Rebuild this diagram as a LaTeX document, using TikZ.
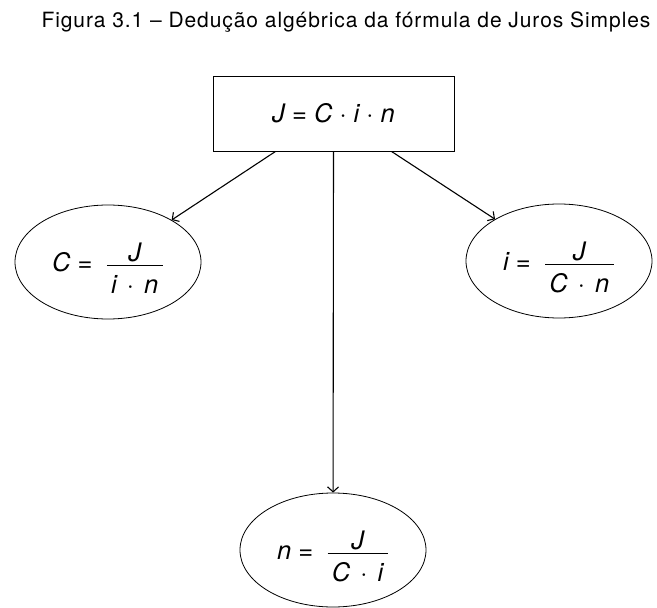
\documentclass[tikz,border=0pt]{standalone}
\usepackage{fontspec}
\setmainfont{TeX Gyre Heros}
\newfontfamily\capfont[LetterSpace=4.4]{TeX Gyre Heros}
\usetikzlibrary{shapes.geometric,arrows.meta,calc}
\newcommand{\sdt}{\hspace{0.4em}·\hspace{0.4em}}
\newcommand{\eqfrac}[2]{\hspace{6pt}$\textstyle\frac{\mbox{\itshape #1}}{\mbox{\rule{0pt}{27.5pt}\itshape\,#2\,}}$}
\begin{document}
\begin{tikzpicture}[x=1pt,y=1pt,
  eqfont/.style={font=\fontsize{25.5}{30}\selectfont},
  ellnode/.style={draw,ellipse,line width=0.8pt,minimum width=186pt,minimum height=114pt,inner sep=0pt},
  eqtext/.style={eqfont,inner sep=0pt},
  boxnode/.style={draw,line width=1pt,minimum width=241pt,minimum height=75pt,inner sep=0pt,eqfont},
  arr/.style={line width=1.1pt,-{Straight Barb[length=5pt,width=11pt]}}]
\useasboundingbox (0,0) rectangle (657,-608);
\node[font=\fontsize{21}{24}\capfont] (cap) at (346,-22) {Figura 3.1 – Dedução algébrica da fórmula de Juros Simples};
\node[boxnode] (J) at (333.5,-113.5) {\itshape J = C · i · n};
\node[ellnode] (C) at (108,-262) {};
\node[ellnode] (I) at (559,-261) {};
\node[ellnode] (N) at (333,-550) {};
\node[eqtext] (Ct) at ([yshift=-6.5pt]C.center) {\itshape C = \eqfrac{J}{i\sdt n}};
\node[eqtext] (It) at ([yshift=-6.5pt]I.center) {\itshape i = \eqfrac{J}{C\sdt n}};
\node[eqtext] (Nt) at ([yshift=-6.5pt]N.center) {\itshape n = \eqfrac{J}{C\sdt i}};
\coordinate (jl) at ($(J.south west)!0.26!(J.south east)$);
\coordinate (jr) at ($(J.south east)!0.26!(J.south west)$);
\draw[arr] (jl) -- (C);
\draw[arr] (jr) -- (I);
\draw[arr] (J.south) -- (N);
\end{tikzpicture}
\end{document}
